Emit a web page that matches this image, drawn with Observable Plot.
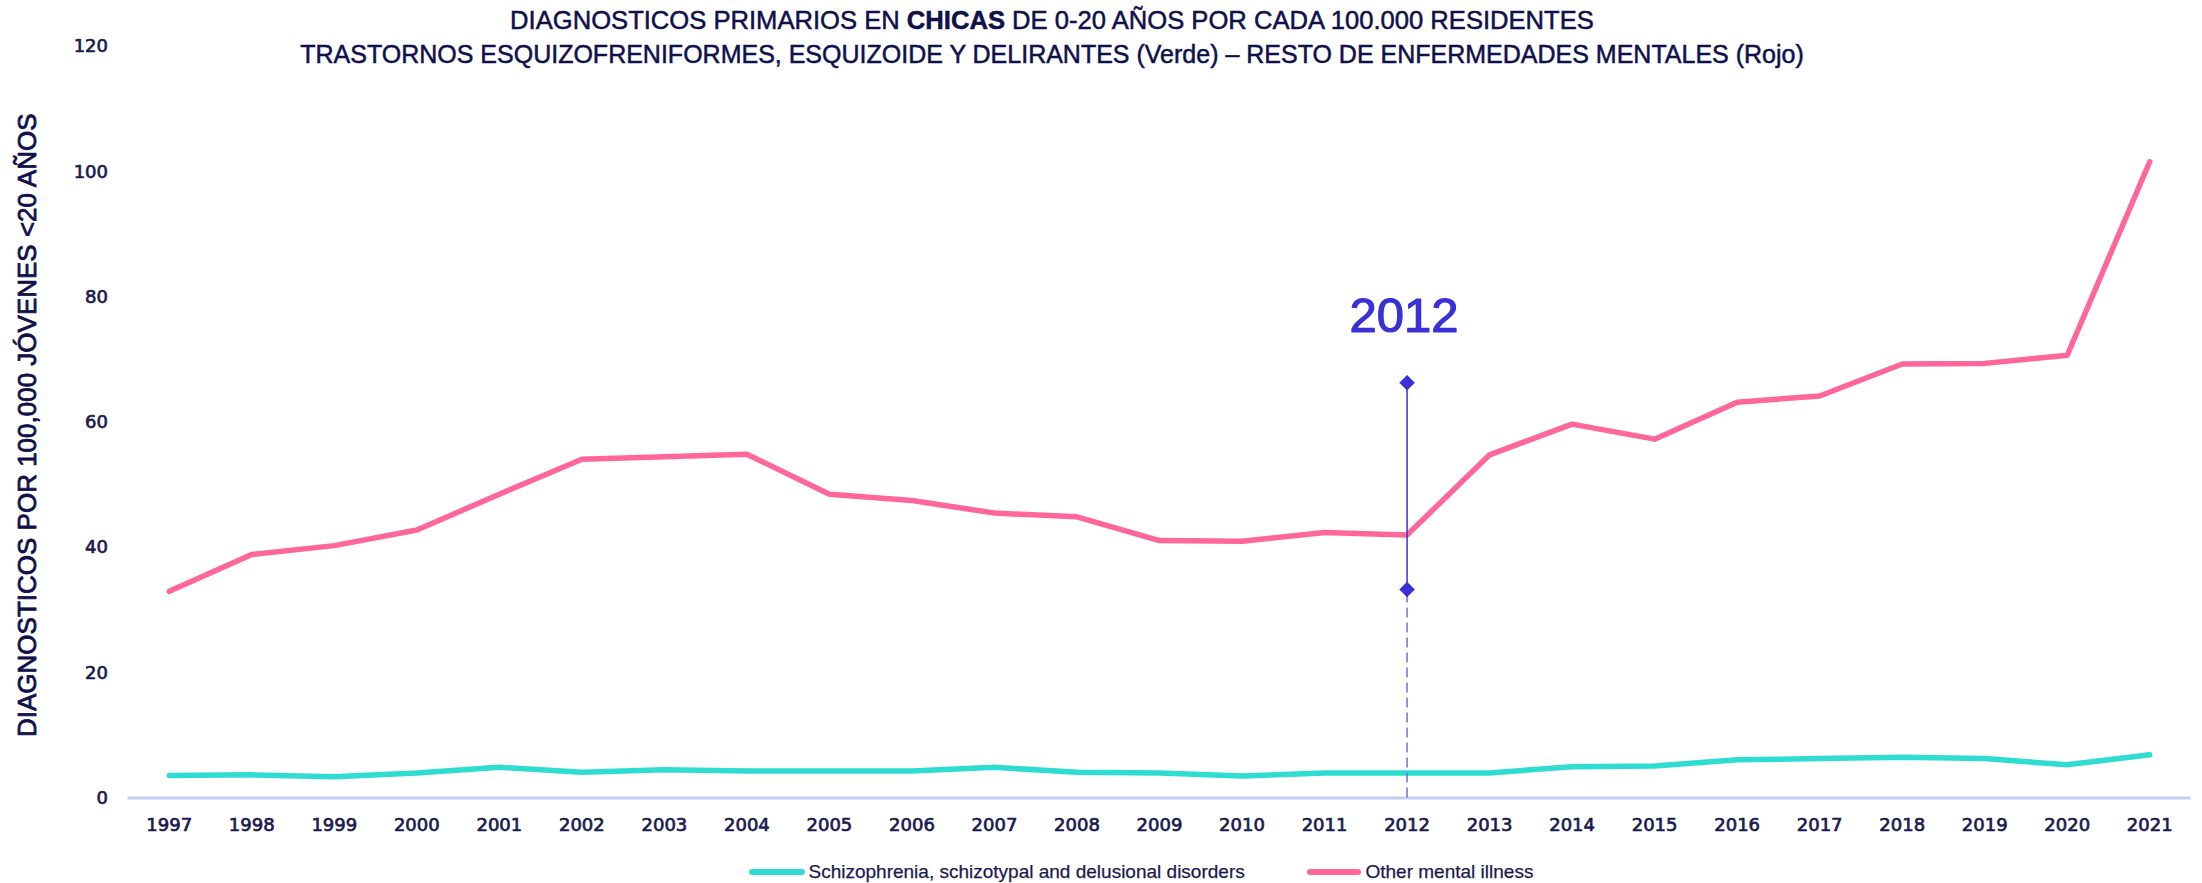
<!DOCTYPE html>
<html>
<head>
<meta charset="utf-8">
<script src="https://cdn.jsdelivr.net/npm/d3@7"></script>
<script src="https://cdn.jsdelivr.net/npm/@observablehq/plot@0.6"></script>
<style>
  html, body { margin: 0; padding: 0; background: #fff; }
  #wrap { position: relative; width: 2202px; height: 883px; overflow: hidden; }
  #chart { position: absolute; left: 0; top: 0; }
  .title { position: absolute; left: 0; width: 2104px; text-align: center;
           font-family: "Liberation Sans", Arial, sans-serif; font-size: 25px; color: #10104a;
           line-height: normal; white-space: nowrap; -webkit-text-stroke: 0.5px #10104a; }
  .legend { position: absolute; top: 860px; font-family: "Liberation Sans", Arial, sans-serif;
            font-size: 19px; color: #1a1a4e; white-space: nowrap; line-height: 24px; -webkit-text-stroke: 0.25px #1a1a4e; }
  .sw { position: absolute; height: 6px; border-radius: 3px; top: 9px; }
</style>
</head>
<body>
<div id="wrap">
  <div id="chart"></div>
  <div class="title" style="top:6px;font-size:25.6px">DIAGNOSTICOS PRIMARIOS EN <b>CHICAS</b> DE 0-20 AÑOS POR CADA 100.000 RESIDENTES</div>
  <div class="title" style="top:40px">TRASTORNOS ESQUIZOFRENIFORMES, ESQUIZOIDE Y DELIRANTES (Verde) – RESTO DE ENFERMEDADES MENTALES (Rojo)</div>
  <div id="legend"></div>
</div>
<script>
// ---- data ----
const years = [1997,1998,1999,2000,2001,2002,2003,2004,2005,2006,2007,2008,2009,2010,2011,2012,2013,2014,2015,2016,2017,2018,2019,2020,2021];
const schizo = [3.6,3.7,3.4,4.0,4.9,4.1,4.5,4.3,4.3,4.3,4.9,4.1,4.0,3.5,4.0,4.0,4.0,5.0,5.1,6.1,6.3,6.5,6.3,5.3,6.9];
const other = [33.0,38.9,40.3,42.8,48.5,54.1,54.5,54.9,48.5,47.5,45.5,44.9,41.1,41.0,42.4,42.0,54.8,59.7,57.3,63.2,64.2,69.3,69.4,70.7,101.6];
const yTicks = [0,20,40,60,80,100,120];
const seriesNames = ["Schizophrenia, schizotypal and delusional disorders", "Other mental illness"];
const markerYear = 2012;
const markerLabel = "2012";
const markerTop = 66.3;
const markerBottom = 33.3;
const markerLabelY = 74.4;
const yLabel = "DIAGNOSTICOS POR 100,000 JÓVENES <20 AÑOS";

const teal = "#2edcd2";
const pink = "#ff6699";
const blue = "#3a30d8";
const navy = "#1a1a4e";

const schizoRows = years.map((y, i) => ({year: y, value: schizo[i]}));
const otherRows = years.map((y, i) => ({year: y, value: other[i]}));

const chart = Plot.plot({
  width: 2202,
  height: 883,
  marginTop: 46,
  marginBottom: 85.5,
  marginLeft: 127.5,
  marginRight: 11.5,
  style: {fontFamily: "DejaVu Sans, sans-serif", fontSize: "18px", color: navy, background: "white"},
  x: {type: "linear", domain: [1996.5, 2021.5]},
  y: {domain: [0, 120]},
  marks: [
    Plot.ruleY([0], {stroke: "#c5cbf7", strokeWidth: 3}),
    Plot.axisX({ticks: years, tickFormat: d => String(d), tickSize: 0, tickPadding: 20, label: null, fontSize: 18,
      textStroke: navy, textStrokeWidth: 0.7}),
    Plot.axisY({ticks: yTicks, tickSize: 0, tickPadding: 20, label: null, fontSize: 18,
      textStroke: navy, textStrokeWidth: 0.7}),
    Plot.text([yLabel], {frameAnchor: "left", text: d => d, rotate: -90, dx: -100.5, dy: 3,
      textAnchor: "middle", lineAnchor: "middle",
      fontSize: 26, fontFamily: "Liberation Sans, Arial, sans-serif", fill: "#10104a", stroke: "#10104a", strokeWidth: 0.8}),
    Plot.line(schizoRows, {x: "year", y: "value", stroke: teal, strokeWidth: 5.5, strokeLinecap: "round", strokeLinejoin: "round"}),
    Plot.line(otherRows, {x: "year", y: "value", stroke: pink, strokeWidth: 5.5, strokeLinecap: "round", strokeLinejoin: "round"}),
    Plot.ruleX([markerYear], {y1: 0, y2: markerBottom, stroke: "#6f6fe6", strokeWidth: 1.5, strokeDasharray: "10,5"}),
    Plot.ruleX([markerYear], {y1: markerBottom, y2: markerTop, stroke: blue, strokeWidth: 1.5}),
    Plot.dot([{x: markerYear, y: markerTop}, {x: markerYear, y: markerBottom}], {x: "x", y: "y", symbol: "diamond2", r: 7, fill: blue, stroke: "none"}),
    Plot.text([{x: markerYear, y: markerLabelY, t: markerLabel}], {x: "x", y: "y", text: "t", dx: -3, lineAnchor: "bottom",
      fontSize: 49, fontFamily: "Liberation Sans, Arial, sans-serif", fill: blue, stroke: blue, strokeWidth: 1.2})
  ]
});
document.getElementById("chart").appendChild(chart);

// legend
const leg = document.getElementById("legend");
const legendItems = [
  {name: seriesNames[0], color: teal, swLeft: 749, swWidth: 56, textLeft: 808.5},
  {name: seriesNames[1], color: pink, swLeft: 1307, swWidth: 54, textLeft: 1365.5}
];
legendItems.forEach(it => {
  const sw = document.createElement("div");
  sw.className = "legend";
  sw.style.left = "0px";
  sw.innerHTML = `<span class="sw" style="left:${it.swLeft}px;width:${it.swWidth}px;background:${it.color}"></span>`;
  leg.appendChild(sw);
  const t = document.createElement("div");
  t.className = "legend";
  t.style.left = it.textLeft + "px";
  t.textContent = it.name;
  leg.appendChild(t);
});
</script>
</body>
</html>
